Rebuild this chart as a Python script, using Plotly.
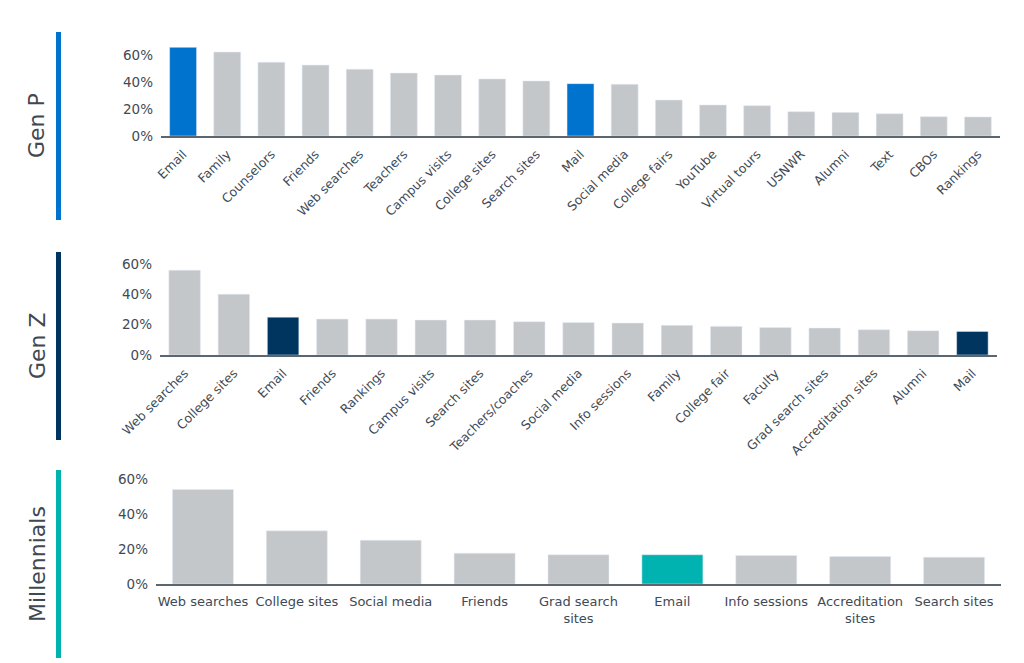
import plotly.graph_objects as go

# Gen P - share of respondents by source
genp_sources = ["Email", "Family", "Counselors", "Friends", "Web searches", "Teachers",
                "Campus visits", "College sites", "Search sites", "Mail", "Social media",
                "College fairs", "YouTube", "Virtual tours", "USNWR", "Alumni", "Text",
                "CBOs", "Rankings"]
genp_values = [66, 62.5, 55, 52.8, 49.8, 46.9, 45.4, 42.5, 41, 39, 38.5,
               26.8, 23.1, 22.6, 18.1, 17.6, 16.6, 14.4, 14.2]

# Gen Z
genz_sources = ["Web searches", "College sites", "Email", "Friends", "Rankings",
                "Campus visits", "Search sites", "Teachers/coaches", "Social media",
                "Info sessions", "Family", "College fair", "Faculty", "Grad search sites",
                "Accreditation sites", "Alumni", "Mail"]
genz_values = [56, 40.2, 25, 23.7, 23.7, 23.1, 23.1, 22, 21.5, 21.1, 19.6, 18.9,
               18.2, 17.8, 16.7, 16, 15.6]

# Millennials
mill_sources = ["Web searches", "College sites", "Social media", "Friends",
                "Grad search<br>sites", "Email", "Info sessions", "Accreditation<br>sites",
                "Search sites"]
mill_values = [54.3, 30.5, 25.1, 17.7, 16.8, 16.8, 16.4, 15.8, 15.4]

pct_ticks = [0, 20, 40, 60]
pct_labels = ["0%", "20%", "40%", "60%"]

GREY = "#C4C7CA"
BLUE = "#0073CF"
NAVY = "#00355F"
TEAL = "#00B2B0"
TXT = "#3F4A55"
AXIS = "#5B6670"

# the page body keeps its default 8px margin, so the figure is drawn
# 8px smaller and every screen position below is shifted by that much
OFF = 8
W, H = 1024 - 2 * OFF, 663 - OFF


def px_x(s):
    return (s - OFF) / W


def ydom(top_px, bottom_px):
    return [1 - (bottom_px - OFF) / H, 1 - (top_px - OFF) / H]


def colours(cats, hi, col):
    return [col if c in hi else GREY for c in cats]


fig = go.Figure()

fig.add_trace(go.Bar(x=genp_sources, y=genp_values, marker_color=colours(genp_sources, ["Email", "Mail"], BLUE),
                     xaxis="x", yaxis="y", width=0.61, hoverinfo="x+y"))
fig.add_trace(go.Bar(x=genz_sources, y=genz_values, marker_color=colours(genz_sources, ["Email", "Mail"], NAVY),
                     xaxis="x2", yaxis="y2", width=0.64, hoverinfo="x+y"))
fig.add_trace(go.Bar(x=mill_sources, y=mill_values, marker_color=colours(mill_sources, ["Email"], TEAL),
                     xaxis="x3", yaxis="y3", width=0.65, hoverinfo="x+y"))

xcommon = dict(showline=True, linecolor=AXIS, linewidth=2, showgrid=False, ticks="",
               automargin=False, ticklabelstandoff=4,
               tickfont=dict(family="DejaVu Sans", size=12.5, color=TXT), fixedrange=True)
ycommon = dict(showgrid=False, zeroline=False, showline=False, automargin=False,
               tickmode="array", tickvals=pct_ticks, ticktext=pct_labels, ticklabelstandoff=7,
               tickfont=dict(family="DejaVu Sans", size=13.5, color=TXT), fixedrange=True)

fig.update_layout(
    width=W, height=H,
    margin=dict(l=0, r=0, t=0, b=0, autoexpand=False),
    paper_bgcolor="white", plot_bgcolor="white",
    showlegend=False,
    xaxis=dict(xcommon, domain=[px_x(161), px_x(1000)], anchor="y", tickangle=-45,
               range=[-0.5, len(genp_sources) - 0.5]),
    yaxis=dict(ycommon, domain=ydom(42, 136), anchor="x", range=[0, 70]),
    xaxis2=dict(xcommon, domain=[px_x(160), px_x(997)], anchor="y2", tickangle=-45,
                range=[-0.5, len(genz_sources) - 0.5]),
    yaxis2=dict(ycommon, domain=ydom(249, 355), anchor="x2", range=[0, 70]),
    xaxis3=dict(xcommon, domain=[px_x(156), px_x(1001)], anchor="y3", tickangle=0,
                ticklabelstandoff=4, tickfont=dict(family="DejaVu Sans", size=13, color=TXT),
                range=[-0.5, len(mill_sources) - 0.5]),
    yaxis3=dict(ycommon, domain=ydom(476, 584), anchor="x3", range=[0, 62]),
)

# generation labels with coloured side bars
groups = [("Gen P", BLUE, 32, 220), ("Gen Z", NAVY, 252, 440), ("Millennials", TEAL, 470, 658)]
for name, col, top, bottom in groups:
    y0, y1 = ydom(top, bottom)
    fig.add_shape(type="rect", xref="paper", yref="paper",
                  x0=px_x(56), x1=px_x(61), y0=y0, y1=y1,
                  fillcolor=col, line_width=0)
    fig.add_annotation(text=name, xref="paper", yref="paper", x=px_x(37),
                       y=(y0 + y1) / 2, xanchor="center", yanchor="middle",
                       textangle=-90, showarrow=False,
                       font=dict(family="DejaVu Sans", size=22, color="#404850"))

fig.write_html("out.html")
